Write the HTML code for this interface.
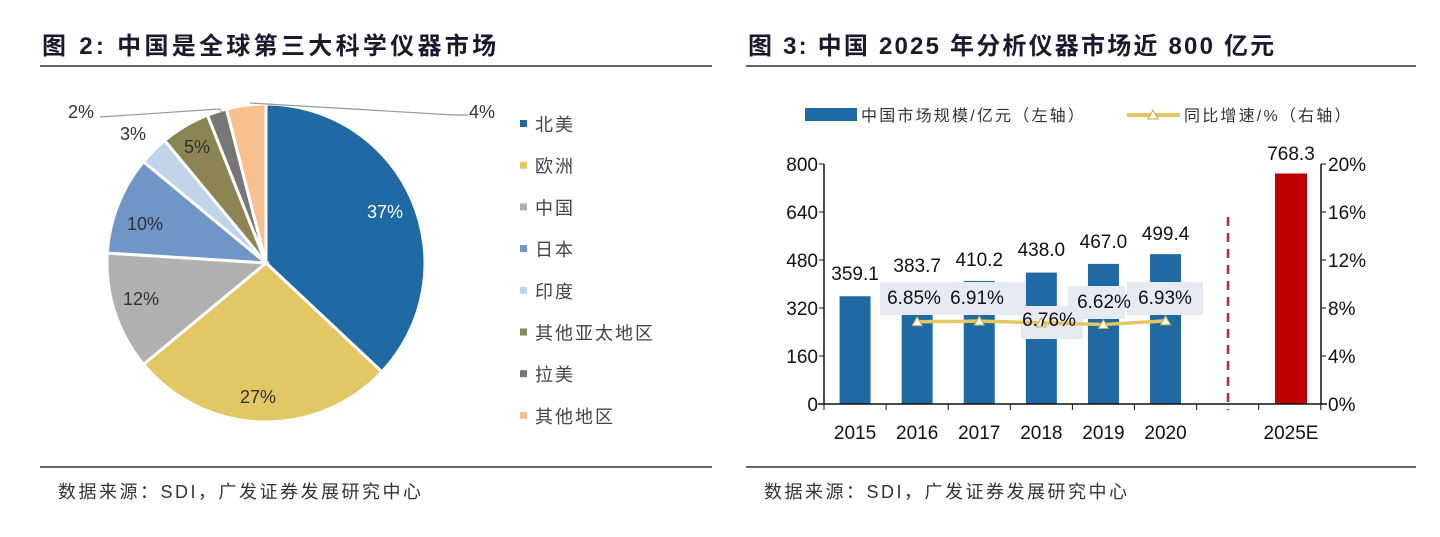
<!DOCTYPE html>
<html><head><meta charset="utf-8"><style>
body{margin:0;width:1440px;height:532px;background:#fff;overflow:hidden;font-family:"Liberation Sans","Noto Sans CJK SC",sans-serif;}
</style></head><body>
<svg id="s" width="1440" height="532" xmlns="http://www.w3.org/2000/svg" font-family="Liberation Sans, Noto Sans CJK SC, sans-serif">
<g font-weight="bold" font-size="24" fill="#1a1a2e">
<text x="42" y="54" letter-spacing="3.3">图 2: 中国是全球第三大科学仪器市场</text>
<text x="748" y="54" letter-spacing="2.2">图 3: 中国 2025 年分析仪器市场近 800 亿元</text>
</g>
<g stroke="#333" stroke-width="1.5">
<line x1="40" y1="66" x2="712" y2="66"/><line x1="746" y1="66" x2="1416" y2="66"/>
<line x1="40" y1="467" x2="712" y2="467"/><line x1="746" y1="467" x2="1416" y2="467"/>
</g>
<g font-size="18" fill="#333" letter-spacing="2.5">
<text x="58" y="498">数据来源：SDI，广发证券发展研究中心</text>
<text x="764" y="498">数据来源：SDI，广发证券发展研究中心</text>
</g>
<g id="pie"></g>
<g id="chart"></g>
</svg>
<script>
const NS="http://www.w3.org/2000/svg";
function el(p,t,a,txt){const e=document.createElementNS(NS,t);for(const k in a)e.setAttribute(k,a[k]);if(txt!==undefined)e.textContent=txt;p.appendChild(e);return e;}
const pie=document.getElementById('pie');
const cx=266,cy=263,r=159;
const data=[[37,'#1f6aa5','北美'],[27,'#e3c764','欧洲'],[12,'#b0b0b0','中国'],[10,'#7096c8','日本'],[3,'#c0d3e8','印度'],[5,'#8c8452','其他亚太地区'],[2,'#777','拉美'],[4,'#f9c08f','其他地区']];
let a0=0;
data.forEach((d,i)=>{const a1=a0+d[0]/100*2*Math.PI;
const x0=cx+r*Math.sin(a0),y0=cy-r*Math.cos(a0),x1=cx+r*Math.sin(a1),y1=cy-r*Math.cos(a1);
el(pie,'path',{d:`M${cx},${cy}L${x0},${y0}A${r},${r} 0 ${a1-a0>Math.PI?1:0} 1 ${x1},${y1}Z`,fill:d[1],stroke:'#fff','stroke-width':3});
a0=a1;
const ly=124+i*41.7;
el(pie,'rect',{x:520,y:ly-4,width:7,height:7,fill:d[1]});
el(pie,'text',{x:535,y:ly+7,'font-size':18,fill:'#444','letter-spacing':2},d[2]);
});
[[385,218,'37%','#fff'],[258,403,'27%','#333'],[141,305,'12%','#333'],[145,230,'10%','#333'],[197,153,'5%','#333'],[133,140,'3%','#333'],[81,118,'2%','#333'],[482,118,'4%','#333']].forEach(t=>el(pie,'text',{x:t[0],y:t[1],'font-size':18,fill:t[3],'text-anchor':'middle'},t[2]));
el(pie,'polyline',{points:'100,117 219,109 222,112',fill:'none',stroke:'#999','stroke-width':1.2});
el(pie,'polyline',{points:'250,103 454,115 468,115',fill:'none',stroke:'#999','stroke-width':1.2});
const c=document.getElementById('chart');
const L=824,T=164,B=404,R=1321,w=62.1;
const y=v=>B-v*0.3;
el(c,'rect',{x:805,y:108,width:52,height:13,fill:'#1f6aa5'});
el(c,'text',{x:861,y:121,'font-size':16,fill:'#333','letter-spacing':2.2},'中国市场规模/亿元（左轴）');
el(c,'line',{x1:1127,y1:115,x2:1180,y2:115,stroke:'#e3c764','stroke-width':4});
el(c,'path',{d:'M1153,110 L1158,119 L1148,119Z',fill:'#fff',stroke:'#c9a93a'});
el(c,'text',{x:1184,y:121,'font-size':16,fill:'#333','letter-spacing':2.2},'同比增速/%（右轴）');
const vals=[359.1,383.7,410.2,438.0,467.0,499.4];
const xc=i=>L+w*(i+0.5);
vals.forEach((v,i)=>{el(c,'rect',{x:xc(i)-15.5,y:y(v),width:31,height:B-y(v),fill:'#1f6aa5'});});
const xe=1291;
el(c,'rect',{x:xe-16,y:y(768.3),width:32,height:B-y(768.3),fill:'#c00000'});
el(c,'line',{x1:1228,y1:217,x2:1228,y2:410,stroke:'#d0202a','stroke-width':2.5,'stroke-dasharray':'9,7'});
el(c,'line',{x1:L,y1:T,x2:L,y2:B,stroke:'#111','stroke-width':1.5});
el(c,'line',{x1:R,y1:T,x2:R,y2:B,stroke:'#111','stroke-width':1.5});
el(c,'line',{x1:L-6,y1:B,x2:R+6,y2:B,stroke:'#111','stroke-width':1.5});
for(let k=0;k<=5;k++){const yy=B-k*48;
el(c,'line',{x1:L-5,y1:yy,x2:L,y2:yy,stroke:'#111'});el(c,'line',{x1:R,y1:yy,x2:R+5,y2:yy,stroke:'#111'});
el(c,'text',{x:L-6,y:yy+7,'font-size':19,'text-anchor':'end',fill:'#111'},String(k*160));
el(c,'text',{x:R+7,y:yy+7,'font-size':19,fill:'#111'},(k*4)+'%');}
for(let k=0;k<=8;k++){el(c,'line',{x1:L+k*w,y1:B,x2:L+k*w,y2:B+6,stroke:'#111'});}
['2015','2016','2017','2018','2019','2020'].forEach((t,i)=>el(c,'text',{x:xc(i),y:439,'font-size':19,'text-anchor':'middle',fill:'#111'},t));
el(c,'text',{x:xe,y:439,'font-size':19,'text-anchor':'middle',fill:'#111'},'2025E');
const g=[[1,6.85],[2,6.91],[3,6.76],[4,6.62],[5,6.93]];
const gy=p=>B-p*12;
[[880,282,145,33],[1021,306,62,33],[1068,286,57,33],[1127,282,76,33]].forEach(b=>el(c,'rect',{x:b[0],y:b[1],width:b[2],height:b[3],fill:'#e6ebf3'}));
el(c,'polyline',{points:g.map(p=>`${xc(p[0])},${gy(p[1])}`).join(' '),fill:'none',stroke:'#e3c764','stroke-width':3.5});
g.forEach(p=>{const xx=xc(p[0]),yy=gy(p[1]);el(c,'path',{d:`M${xx},${yy-5} L${xx+5},${yy+4} L${xx-5},${yy+4}Z`,fill:'#fff',stroke:'#c9a93a'});});
[[914,304,'6.85%'],[977,304,'6.91%'],[1049,326,'6.76%'],[1104,308,'6.62%'],[1165,304,'6.93%']].forEach(t=>el(c,'text',{x:t[0],y:t[1],'font-size':19,'text-anchor':'middle',fill:'#111'},t[2]));
vals.forEach((v,i)=>el(c,'text',{x:xc(i),y:[280,272,266,256,248,240][i],'font-size':19,'text-anchor':'middle',fill:'#111'},v.toFixed(1)));
el(c,'text',{x:xe,y:160,'font-size':19,'text-anchor':'middle',fill:'#111'},'768.3');
</script>
</body></html>
